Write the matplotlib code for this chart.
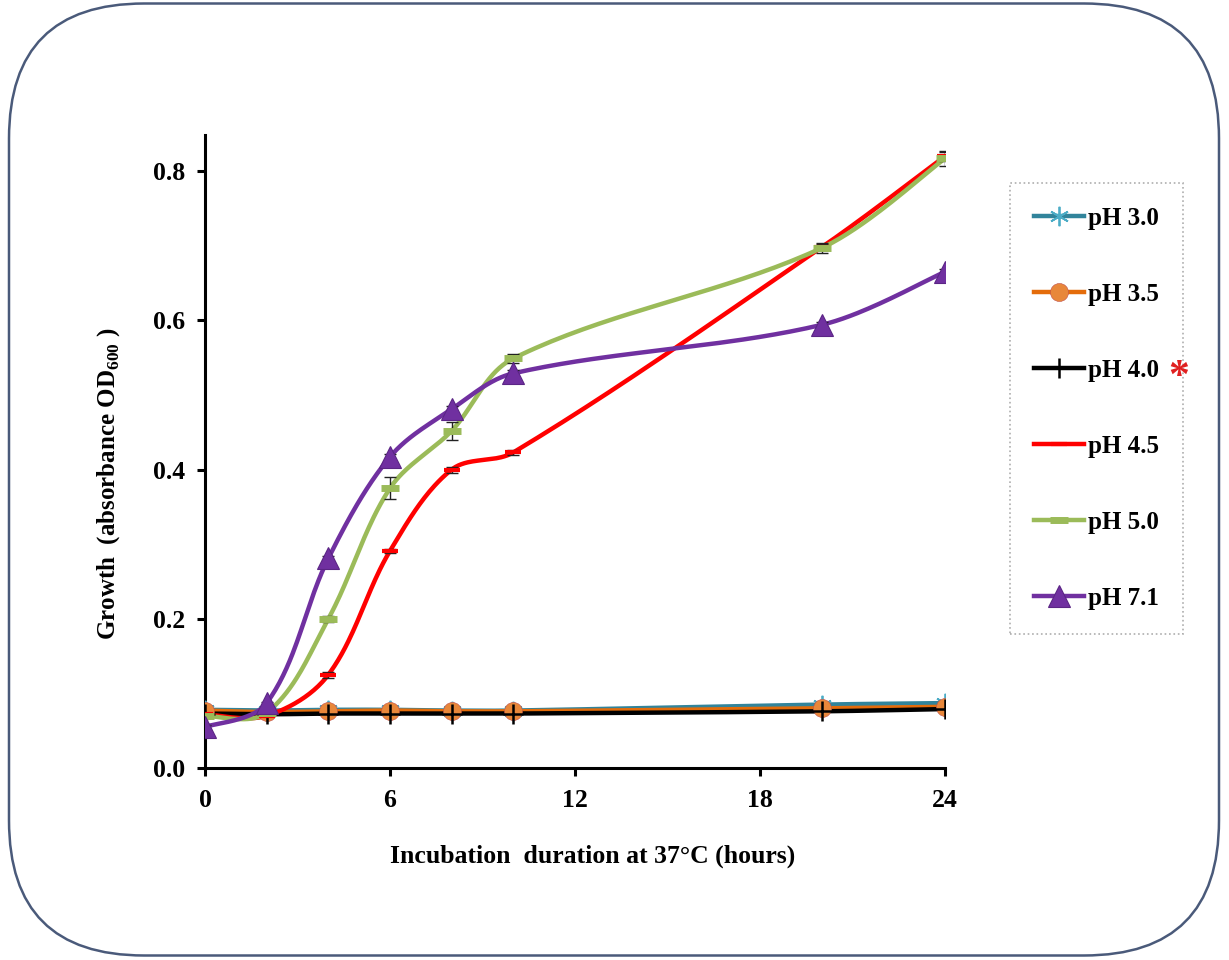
import numpy as np
import matplotlib
matplotlib.use("Agg")
import matplotlib.pyplot as plt
from matplotlib.lines import Line2D
from matplotlib.patches import FancyBboxPatch

plt.rcParams["font.family"] = ["Liberation Serif", "DejaVu Serif"]
plt.rcParams["font.weight"] = "bold"
plt.rcParams["mathtext.fontset"] = "custom"
plt.rcParams["mathtext.bf"] = "Liberation Serif:bold"
plt.rcParams["mathtext.rm"] = "Liberation Serif:bold"

# Sampling times (hours)
hours = [0, 2, 4, 6, 8, 10, 20, 24]

# OD600 readings per pH
od_ph30 = [0.078, 0.077, 0.078, 0.078, 0.077, 0.077, 0.085, 0.087]
od_ph35 = [0.077, 0.075, 0.076, 0.077, 0.076, 0.076, 0.080, 0.082]
od_ph40 = [0.073, 0.072, 0.073, 0.073, 0.073, 0.073, 0.076, 0.079]
od_ph45 = [0.072, 0.070, 0.125, 0.291, 0.400, 0.423, 0.698, 0.820]
od_ph50 = [0.070, 0.074, 0.200, 0.375, 0.452, 0.549, 0.697, 0.817]
od_ph71 = [0.055, 0.087, 0.281, 0.417, 0.481, 0.529, 0.594, 0.665]

# standard deviations
sd_ph30 = [0.002, 0.002, 0.002, 0.002, 0.002, 0.002, 0.002, 0.002]
sd_ph35 = [0.002, 0.002, 0.002, 0.002, 0.002, 0.002, 0.002, 0.002]
sd_ph40 = [0.001, 0.001, 0.001, 0.001, 0.001, 0.001, 0.001, 0.001]
sd_ph45 = [0.002, 0.002, 0.004, 0.003, 0.004, 0.003, 0.004, 0.006]
sd_ph50 = [0.002, 0.002, 0.004, 0.015, 0.012, 0.006, 0.007, 0.010]
sd_ph71 = [0.002, 0.002, 0.003, 0.004, 0.004, 0.004, 0.004, 0.004]

labels = ["pH 3.0", "pH 3.5", "pH 4.0", "pH 4.5", "pH 5.0", "pH 7.1"]

# rough screen scale (px per unit) so the smoothing behaves like a
# spreadsheet "smoothed line" drawn on screen
SX, SY = 740 / 24.0, 746.0


def smooth(x, y, n=40):
    """Bezier through the points, tangents weighted by segment length."""
    p = np.column_stack([np.asarray(x) * SX, np.asarray(y) * SY]).astype(float)
    m = len(p)
    tang = np.zeros_like(p)
    for i in range(m):
        a = p[max(i - 1, 0)]
        b = p[min(i + 1, m - 1)]
        d = b - a
        tang[i] = d / np.linalg.norm(d)
    pts = [p[0]]
    t = np.linspace(0, 1, n)[1:, None]
    for i in range(m - 1):
        p1, p2 = p[i], p[i + 1]
        L = np.linalg.norm(p2 - p1)
        f1 = 1 / 6.0 if i == 0 else 1 / 3.0
        f2 = 1 / 6.0 if i + 1 == m - 1 else 1 / 3.0
        c1 = p1 + tang[i] * L * f1
        c2 = p2 - tang[i + 1] * L * f2
        seg = ((1 - t) ** 3) * p1 + 3 * ((1 - t) ** 2) * t * c1 \
            + 3 * (1 - t) * t ** 2 * c2 + t ** 3 * p2
        pts.extend(seg)
    pts = np.array(pts)
    return pts[:, 0] / SX, pts[:, 1] / SY


series = [
    (od_ph30, sd_ph30, "#31849B", dict(marker=(6, 2, 0), ms=14, mec="#4BACC6", mew=1.3)),
    (od_ph35, sd_ph35, "#E46C0A", dict(marker="o", ms=13, mfc="#E8873A", mec="#C0504D", mew=0.4)),
    (od_ph40, sd_ph40, "#000000", dict(marker="+", ms=14, mec="#000000", mew=1.8)),
    (od_ph45, sd_ph45, "#FF0000", dict(marker="_", ms=11, mec="#FF0000", mew=3)),
    (od_ph50, sd_ph50, "#9BBB59", dict(marker="_", ms=13, mec="#9BBB59", mew=5)),
    (od_ph71, sd_ph71, "#7030A0", dict(marker="^", ms=16, mfc="#7030A0", mec="#5B2585", mew=0.8)),
]

fig = plt.figure(figsize=(12.29, 9.6), dpi=100)
ax = fig.add_axes([0.1668, 0.2, 0.6021, 0.659])

handles = []
for (vals, sd, col, mk), lab in zip(series, labels):
    sx, sy = smooth(hours, vals)
    ax.plot(sx, sy, color=col, lw=3.2, solid_capstyle="round", zorder=3)
    ax.errorbar(hours, vals, yerr=sd, fmt="none", ecolor="#222222",
                elinewidth=1, capsize=4, capthick=1, zorder=4)
    ax.plot(hours, vals, ls="none", zorder=5, **mk)
    handles.append(Line2D([0], [0], color=col, lw=3.2, **mk))

ax.set_xlim(0, 24)
ax.set_ylim(0, 0.848)
ax.set_xticks([0, 6, 12, 18, 24])
ax.set_yticks([0.0, 0.2, 0.4, 0.6, 0.8])
ax.set_yticklabels(["0.0", "0.2", "0.4", "0.6", "0.8"])
ax.spines["top"].set_visible(False)
ax.spines["right"].set_visible(False)
for s in ("left", "bottom"):
    ax.spines[s].set_linewidth(2.2)
ax.tick_params(direction="out", length=6, width=2.2, labelsize=18.5)
ax.tick_params(axis="y", pad=8)
ax.tick_params(axis="x", pad=9)
for lbl in ax.get_xticklabels() + ax.get_yticklabels():
    lbl.set_fontweight("bold")

ax.set_ylabel("Growth  (absorbance OD$_{\\mathbf{600}}$ )", fontsize=18,
              fontweight="bold")
ax.yaxis.set_label_coords(-0.112, 0.449)
ax.set_xlabel("Incubation  duration at 37\u00b0C (hours)", fontsize=18.5,
              fontweight="bold")
ax.xaxis.set_label_coords(0.524, -0.121)

leg = fig.legend(handles, labels, loc="upper left",
                 bbox_to_anchor=(1010 / 1229, 1 - 183 / 960),
                 prop={"family": "Liberation Serif", "weight": "bold", "size": 18},
                 labelspacing=2.12, handlelength=2.0, handletextpad=0.18,
                 borderpad=0.95, borderaxespad=0, fancybox=False, frameon=True)
leg.set_zorder(5)
frame = leg.get_frame()
frame.set_edgecolor("#9A9A9A")
frame.set_linestyle(":")
frame.set_linewidth(1.2)

# red star flagging the pH 4.0 entry
fig.text(1179 / 1229, 1 - 378 / 960, "*", color="#E02020", fontsize=30,
         fontweight="bold", ha="center", va="center", zorder=20)

# rounded outer frame
border = FancyBboxPatch((0.09, 0.045), 12.1, 9.52,
                        boxstyle="round,pad=0,rounding_size=1.35",
                        transform=fig.dpi_scale_trans, fill=False,
                        edgecolor="#4A5A7A", linewidth=1.8, zorder=10)
fig.patches.append(border)

fig.savefig("out.png", dpi=100)
